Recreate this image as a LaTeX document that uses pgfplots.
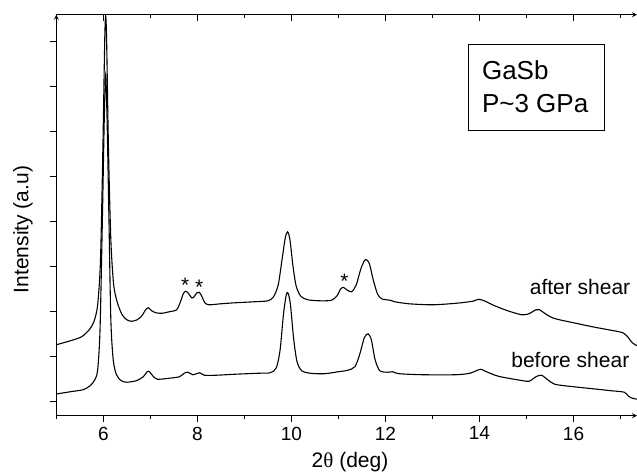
\documentclass[border=0pt]{standalone}
\usepackage{pgfplots}
\pgfplotsset{compat=1.18}
\usepackage{fontspec}
\setmainfont{Liberation Sans}
\newfontfamily\symfont{Liberation Serif}

% XRD patterns, y = offset in px from the bottom axis line
\pgfplotstableread{
x y
5.00 71
5.30 75
5.54 79
5.70 86
5.80 94
5.88 111
5.94 156
5.99 266
6.03 376
6.05 400
6.07 376
6.11 266
6.16 176
6.22 131
6.30 113
6.40 101
6.50 96
6.60 94.5
6.72 96
6.82 100
6.90 106
6.96 108
7.03 105
7.12 103
7.25 102.5
7.40 104
7.56 106
7.64 114
7.70 122
7.75 124.5
7.80 123
7.88 118
7.93 119
7.99 123
8.04 123.5
8.09 120
8.16 113
8.25 111
8.50 112
8.80 113
9.20 114
9.50 115
9.62 119
9.72 131
9.80 156
9.87 178
9.92 184
9.97 176
10.03 151
10.10 130
10.20 119.5
10.35 116
10.60 115
10.85 115.5
10.97 120
11.05 127
11.11 128.3
11.18 126
11.28 124
11.38 131
11.47 146
11.55 155
11.60 156
11.66 152
11.74 136
11.83 122
11.92 117
12.10 115.5
12.20 114
12.50 112
13.00 111
13.50 112.5
13.85 114.5
13.98 116.5
14.10 115
14.30 110.5
14.60 105
14.90 101
15.05 102
15.20 106
15.28 106
15.40 102
15.55 98
15.70 96
16.00 93
16.40 89
16.80 85.5
17.05 83
17.15 79
17.25 73
17.35 70
}\after

\pgfplotstableread{
x y
5.00 21.7
5.30 24
5.57 26
5.72 30
5.82 36
5.88 46
5.93 86
5.98 196
6.02 296
6.05 341
6.08 296
6.12 196
6.16 96
6.21 56
6.28 41
6.38 35
6.50 33.5
6.70 35
6.85 39
6.93 44
6.97 44.5
7.05 40
7.15 36.5
7.40 37.5
7.62 39
7.72 42.5
7.80 43.5
7.90 41
7.98 42
8.05 43
8.15 40.5
8.40 40.5
8.80 41.5
9.30 42.5
9.55 43
9.68 48
9.76 66
9.83 101
9.89 121
9.93 122.5
9.98 111
10.05 76
10.12 54
10.22 45
10.40 42.5
10.70 42
11.00 44
11.20 45.5
11.35 49
11.45 61
11.55 78
11.63 82
11.70 76
11.78 56
11.88 45
12.05 43.5
12.15 44
12.30 42
12.80 41
13.50 41
13.80 42.5
13.95 45.5
14.03 46.5
14.15 44
14.40 39.5
14.80 36
15.05 34.5
15.20 39
15.32 40.5
15.45 36
15.60 31.5
15.90 29.5
16.30 27.5
16.80 25
17.08 23.5
17.17 19.5
17.25 17.5
17.35 16.5
}\before

\begin{document}
\begin{tikzpicture}
\pgfplotsset{
  base/.style={
    scale only axis,
    width=580.7pt, height=401pt,
    at={(0,0)}, anchor=south west,
    xmin=5, xmax=17.35,
    ymin=0, ymax=401.3,
    axis line style={-, line width=1.2pt, black},
    tick style={line width=1.1pt, black},
    major tick length=6.5pt,
    minor tick length=3.5pt,
    xtick={6,8,...,16},
    minor xtick={5,7,...,17},
  },
}
\begin{axis}[
  base,
  axis x line=bottom,
  axis y line=left,
  tick align=outside,
  ytick={14.3,59.3,...,374.3},
  yticklabels={},
  ticklabel style={font=\fontsize{19}{22}\selectfont},
  xticklabel style={yshift=-1pt},
  /pgf/number format/assume math mode=true,
  label style={font=\fontsize{21}{24}\selectfont},
  xlabel={2{\symfont θ} (deg)},
  xlabel style={at={(axis description cs:0.5058,-0.1147)}, anchor=center},
  ylabel={Intensity (a.u)},
  ylabel style={at={(axis description cs:-0.0573,0.4643)}, anchor=center},
]
\addplot[black, line width=1.1pt, smooth, tension=0.45] table {\after};
\addplot[black, line width=1.1pt, smooth, tension=0.45] table {\before};

\node[font=\fontsize{21}{24}\selectfont, anchor=base east, inner sep=0pt] at (axis cs:17.21,121) {after shear};
\node[font=\fontsize{21}{24}\selectfont, anchor=base east, inner sep=0pt] at (axis cs:17.19,48.7) {before shear};

\node[font=\fontsize{21}{24}\selectfont, inner sep=0pt] at (axis cs:7.74,131) {*};
\node[font=\fontsize{21}{24}\selectfont, inner sep=0pt] at (axis cs:8.04,128.7) {*};
\node[font=\fontsize{21}{24}\selectfont, inner sep=0pt] at (axis cs:11.13,134.3) {*};

\draw[line width=1pt, black] (axis cs:13.77,285.3) rectangle (axis cs:16.65,371.7);
\node[font=\fontsize{26}{30}\selectfont, anchor=base west, inner sep=0pt] at (axis cs:14.05,336.7) {GaSb};
\node[font=\fontsize{26}{30}\selectfont, anchor=base west, inner sep=0pt] at (axis cs:14.05,303.3) {P\textasciitilde 3 GPa};
\end{axis}

\begin{axis}[
  base,
  axis x line=top,
  axis y line=none,
  tick align=inside,
  xticklabels={},
  ytick=\empty,
]
\end{axis}

\pgfresetboundingbox
\path[use as bounding box] (-56.3pt,-56.3pt) rectangle (580.7pt,415.7pt);
\end{tikzpicture}
\end{document}
